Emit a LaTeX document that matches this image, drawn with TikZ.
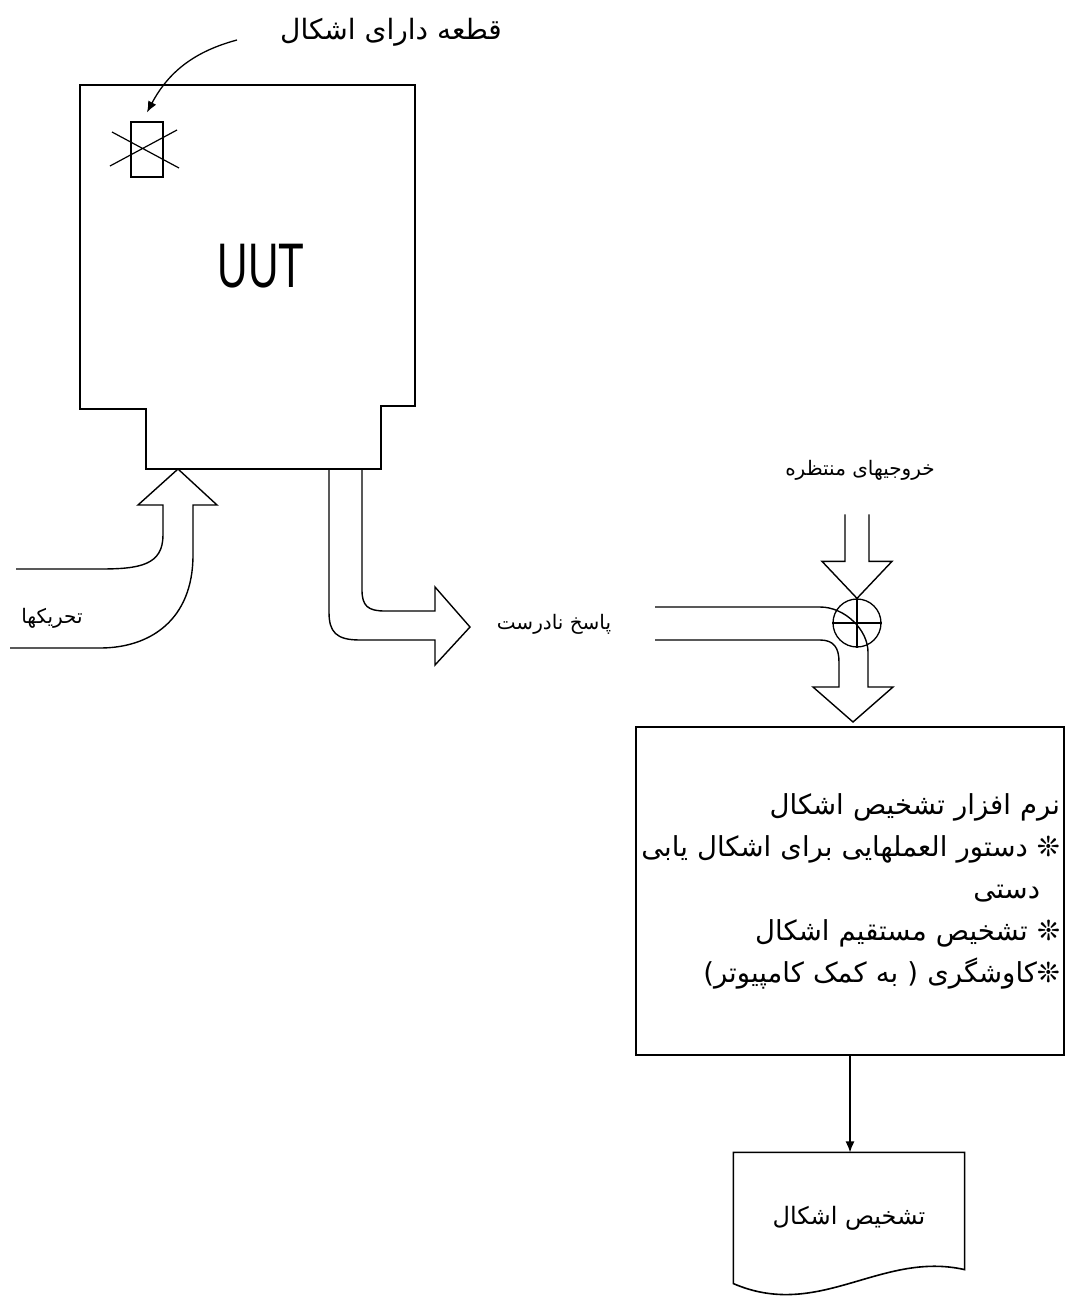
\documentclass[tikz,border=0pt]{standalone}
\usepackage{fontspec}
\usepackage{graphicx}
\setmainfont{Liberation Sans}
\newfontfamily\farsi[Script=Arabic]{DejaVu Sans}
\TeXXeTstate=1
\usetikzlibrary{arrows.meta, calc}
\newcommand{\fatext}[1]{{\farsi\beginR #1\endR}}
\tikzset{
  every picture/.style={line width=1.2pt},
  outline/.style={draw=black, line width=1.6pt, line join=miter},
  fat/.style={draw=black, line width=1.4pt},
  pointer/.style={-{Latex[length=11pt, width=9pt]}, draw=black, line width=1.3pt},
  cross/.style={draw=black, line width=1.2pt},
  lbl/.style={font=\farsi\fontsize{#1}{#1}\selectfont, inner sep=0pt},
  lbl/.default=20,
  swbox/.style={draw, line width=1.5pt, minimum width=428pt, minimum height=328pt,
    text width=420pt, align=right, inner xsep=4pt, font=\farsi\fontsize{27.5}{42}\selectfont},
  docnode/.style={minimum width=230pt, minimum height=130pt, inner sep=0pt,
    font=\farsi\fontsize{24}{28}\selectfont},
}
\begin{document}
\begin{tikzpicture}[x=1pt, y=-1pt]
  \useasboundingbox (0,0) rectangle (1068,1301);
  % unit under test
  \draw[outline] (80,85) -- (415,85) -- (415,406) -- (381,406) -- (381,469)
    -- (146,469) -- (146,409) -- (80,409) -- cycle;
  \node[font=\fontsize{63}{63}\selectfont, anchor=base, inner sep=0pt] (uut) at (261,287) {\scalebox{0.67}[1]{UUT}};
  % faulty part
  \node[draw, line width=1.2pt, minimum width=32pt, minimum height=55pt, inner sep=0pt] (part) at (147,149.5) {};
  \draw[cross] (110,166) -- (177,130) (112,132) -- (179,168);
  \node[lbl=28] (partlbl) at (391,32) {\fatext{قطعه دارای اشکال}};
  \coordinate (partsrc) at (237,40);
  \draw[pointer] (partsrc) to[out=195, in=62] ([yshift=9pt]part.north);
  % stimuli
  \draw[fat] (16,569) -- (100,569) .. controls (140,569) and (163,565) .. (163,535) -- (163,505)
    -- (138,505) -- (178,469) -- (217,505) -- (193,505) -- (193,555)
    .. controls (193,620) and (150,648) .. (100,648) -- (10,648);
  \node[lbl] (stim) at (52,618) {\fatext{تحریکها}};
  % wrong response
  \draw[fat] (362,469) -- (362,590) .. controls (362,606) and (368,611) .. (385,611) -- (435,611)
    -- (435,587) -- (470,627) -- (435,665) -- (435,640) -- (360,640)
    .. controls (336,640) and (329,632) .. (329,612) -- (329,469);
  \node[lbl] (wrong) at (554,624) {\fatext{پاسخ نادرست}};
  % comparison with the expected outputs
  \node[circle, draw, line width=1.3pt, minimum size=48pt, inner sep=0pt] (cmp) at (857,623) {};
  \draw[cross] (cmp.north) -- (cmp.south) (cmp.west) -- (cmp.east);
  \node[lbl] (expect) at (860,470) {\fatext{خروجیهای منتظره}};
  \draw[fat] ($(cmp.north)+(-12,-84)$) -- ++(0,47) -- ++(-23,0) -- (cmp.north)
    -- ++(35,-37) -- ++(-23,0) -- ++(0,-47);
  \draw[fat] (655,607) -- (820,607) .. controls (845,607) and (868,630) .. (868,652) -- (868,687)
    -- (893,687) -- (853,722) -- (813,687) -- (839,687) -- (839,662)
    .. controls (839,648) and (834,640) .. (820,640) -- (655,640);
  % diagnosis software
  \node[swbox] (sw) at (850,891) {%
    \beginR نرم افزار تشخیص اشکال\endR\\
    \beginR ❊ دستور العملهایی برای اشکال یابی\endR\\
    \beginR دستی\endR\rule{20pt}{0pt}\\
    \beginR ❊ تشخیص مستقیم اشکال\endR\\
    \beginR ❊کاوشگری ( به کمک کامپیوتر)\endR};
  % result document
  \node[docnode] (doc) at (849,1218) {\fatext{تشخیص اشکال}};
  \draw[outline] (doc.north west) -- (doc.north east) -- ([yshift=14pt]doc.south east)
    .. controls +(-84,-19) and +(86,37) .. (doc.south west) -- cycle;
  \draw[pointer] (sw.south) -- (sw.south |- doc.north);
\end{tikzpicture}
\end{document}
